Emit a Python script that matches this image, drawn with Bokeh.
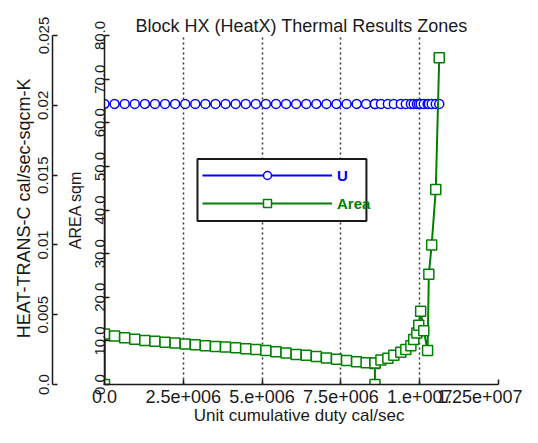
from bokeh.plotting import figure
from bokeh.models import (Range1d, LinearAxis, FixedTicker, Legend, LegendItem, Title,
                          BoxAnnotation)
from bokeh.embed import file_html
from bokeh.resources import INLINE

# ---------------- data ----------------
duty = [0.0, 0.0, 0.32e6, 0.64e6, 0.96e6, 1.28e6, 1.60e6, 1.92e6, 2.24e6, 2.56e6,
        2.88e6, 3.20e6, 3.52e6, 3.84e6, 4.16e6, 4.48e6, 4.80e6, 5.12e6, 5.44e6,
        5.76e6, 6.08e6, 6.40e6, 6.72e6, 7.04e6, 7.36e6, 7.68e6, 8.00e6, 8.30e6,
        8.58e6, 8.58e6, 8.58e6, 8.77e6, 8.99e6, 9.18e6, 9.40e6, 9.56e6, 9.72e6,
        9.81e6, 9.91e6, 9.97e6, 10.03e6, 10.13e6, 10.25e6, 10.29e6, 10.38e6,
        10.51e6, 10.62e6]
area = [0.0, 11.6, 11.1, 10.7, 10.4, 10.1, 9.9, 9.7, 9.5, 9.3,
        9.1, 8.9, 8.7, 8.6, 8.4, 8.2, 8.0, 7.8, 7.5,
        7.2, 6.9, 6.7, 6.4, 6.1, 5.8, 5.5, 5.2, 5.0,
        4.8, 0.0, 4.9, 5.6, 6.0, 6.7, 7.4, 8.0, 8.9,
        10.3, 11.8, 13.6, 16.8, 12.3, 7.8, 25.3, 32.0,
        44.7, 74.9]
u_htc = [0.0] + [0.0201] * (len(duty) - 1)

x_ticks = [0, 2.5e6, 5.0e6, 7.5e6, 1.0e7, 1.25e7]
x_tick_labels = ["0.0", "2.5e+006", "5.e+006", "7.5e+006", "1.e+007", "1.25e+007"]
area_ticks = [0, 10, 20, 30, 40, 50, 60, 70, 80]
area_tick_labels = ["0.0", "10.0", "20.0", "30.0", "40.0", "50.0", "60.0", "70.0", "80.0"]
htc_ticks = [0.0, 0.005, 0.01, 0.015, 0.02, 0.025]
htc_tick_labels = ["0.0", "0.005", "0.01", "0.015", "0.02", "0.025"]

BLUE = "#0000ff"
GREEN = "#008000"
FONT = "Liberation Sans"
INK = "#1a1a1a"

p = figure(width=522, height=427, output_backend="svg", toolbar_location=None,
           x_range=Range1d(0, 1.25e7), y_range=Range1d(0, 80),
           title="Block HX (HeatX) Thermal Results Zones",
           min_border_left=104, min_border_right=24, min_border_top=35,
           min_border_bottom=40)
p.extra_y_ranges = {"htc": Range1d(0, 0.025)}
p.outline_line_color = None
p.background_fill_color = "white"
p.border_fill_color = "white"

p.title.align = "center"
p.title.text_font = FONT
p.title.text_font_size = "18px"
p.title.text_font_style = "normal"
p.title.text_color = INK
p.title.standoff = 0

# x axis
xa = p.xaxis[0]
xa.ticker = FixedTicker(ticks=x_ticks)
xa.major_label_overrides = {t: l for t, l in zip(x_ticks, x_tick_labels)}
xa.major_label_text_font = FONT
xa.major_label_text_font_size = "18px"
xa.major_label_text_color = INK
xa.major_label_standoff = 5
xa.major_tick_in = 5
xa.major_tick_out = 0
xa.minor_tick_line_color = None
xa.axis_line_width = 1.5
xa.axis_line_color = INK
xa.major_tick_line_width = 1.5
xa.major_tick_line_color = INK
xa.axis_label = "Unit cumulative duty  cal/sec"
xa.axis_label_text_font = FONT
xa.axis_label_text_font_size = "17px"
xa.axis_label_text_font_style = "normal"
xa.axis_label_text_color = INK
xa.axis_label_standoff = 0

p.xgrid.ticker = FixedTicker(ticks=x_ticks)
p.xgrid.grid_line_color = "#333333"
p.xgrid.grid_line_dash = "2 3"
p.xgrid.grid_line_width = 1.5
p.ygrid.visible = False

# inner (area) axis
ya = p.yaxis[0]
ya.ticker = FixedTicker(ticks=area_ticks)
ya.major_label_overrides = {t: l for t, l in zip(area_ticks, area_tick_labels)}
ya.major_label_orientation = "vertical"
ya.major_label_text_font = FONT
ya.major_label_text_font_size = "15px"
ya.major_label_text_color = INK
ya.major_label_standoff = 0
ya.major_tick_in = 5
ya.major_tick_out = 0
ya.minor_tick_line_color = None
ya.axis_line_width = 1.5
ya.axis_line_color = INK
ya.major_tick_line_width = 1.5
ya.major_tick_line_color = INK
ya.axis_label = "AREA sqm"
ya.axis_label_text_font = FONT
ya.axis_label_text_font_size = "16px"
ya.axis_label_text_font_style = "normal"
ya.axis_label_text_color = INK
ya.axis_label_standoff = 8

# spacer between the two left axes: one invisible (white) outward tick, no label
spacer = LinearAxis(y_range_name="htc", ticker=FixedTicker(ticks=[0.0125]),
                    major_label_overrides={0.0125: ""},
                    axis_line_color=None, major_tick_line_color="white",
                    major_tick_line_width=1, minor_tick_line_color=None,
                    major_tick_in=0, major_tick_out=11, minor_tick_out=0,
                    minor_tick_in=0, major_label_standoff=0,
                    major_label_text_font_size="1px", major_label_text_alpha=0)
p.add_layout(spacer, "left")

# outer (heat transfer coefficient) axis
ha = LinearAxis(y_range_name="htc", ticker=FixedTicker(ticks=htc_ticks))
ha.major_label_overrides = {t: l for t, l in zip(htc_ticks, htc_tick_labels)}
ha.major_label_orientation = "vertical"
ha.major_label_text_font = FONT
ha.major_label_text_font_size = "15px"
ha.major_label_text_color = INK
ha.major_label_standoff = 4
ha.major_tick_in = 5
ha.major_tick_out = 0
ha.minor_tick_line_color = None
ha.axis_line_width = 1.5
ha.axis_line_color = INK
ha.major_tick_line_width = 1.5
ha.major_tick_line_color = INK
p.add_layout(ha, "left")

htc_title = Title(text="HEAT-TRANS-C  cal/sec-sqcm-K", align="right", offset=38,
                  text_font=FONT, text_font_size="18px", text_font_style="normal",
                  text_color=INK, standoff=3)
p.add_layout(htc_title, "left")

# legend frame (white box with dark border) behind the legend entries
legend_frame = BoxAnnotation(left=2.95e6, right=8.31e6, bottom=37.5, top=51.7,
                             fill_color="white", fill_alpha=1.0,
                             line_color=INK, line_width=2, line_alpha=1.0)
p.add_layout(legend_frame)

# series
u_line = p.line(duty, u_htc, y_range_name="htc", line_color=BLUE, line_width=2)
u_pts = p.scatter(duty, u_htc, y_range_name="htc", marker="circle", size=9,
                  line_color=BLUE, line_width=1.5, fill_color="white")
a_line = p.line(duty, area, line_color=GREEN, line_width=2)
a_pts = p.scatter(duty, area, marker="square", size=10, line_color=GREEN,
                  line_width=1.5, fill_color="white")

common = dict(glyph_width=130, glyph_height=20, label_standoff=5, padding=7,
              spacing=0, margin=0, label_height=20, label_text_font=FONT,
              label_text_font_style="bold", label_text_font_size="15px",
              border_line_color=None, background_fill_alpha=0)
legend_u = Legend(items=[LegendItem(label="U", renderers=[u_line, u_pts])],
                  location=(98, 199), label_text_color=BLUE, **common)
legend_a = Legend(items=[LegendItem(label="Area", renderers=[a_line, a_pts])],
                  location=(98, 171), label_text_color=GREEN, **common)
p.add_layout(legend_u, "center")
p.add_layout(legend_a, "center")

open("out.html", "w").write(file_html(p, INLINE))
